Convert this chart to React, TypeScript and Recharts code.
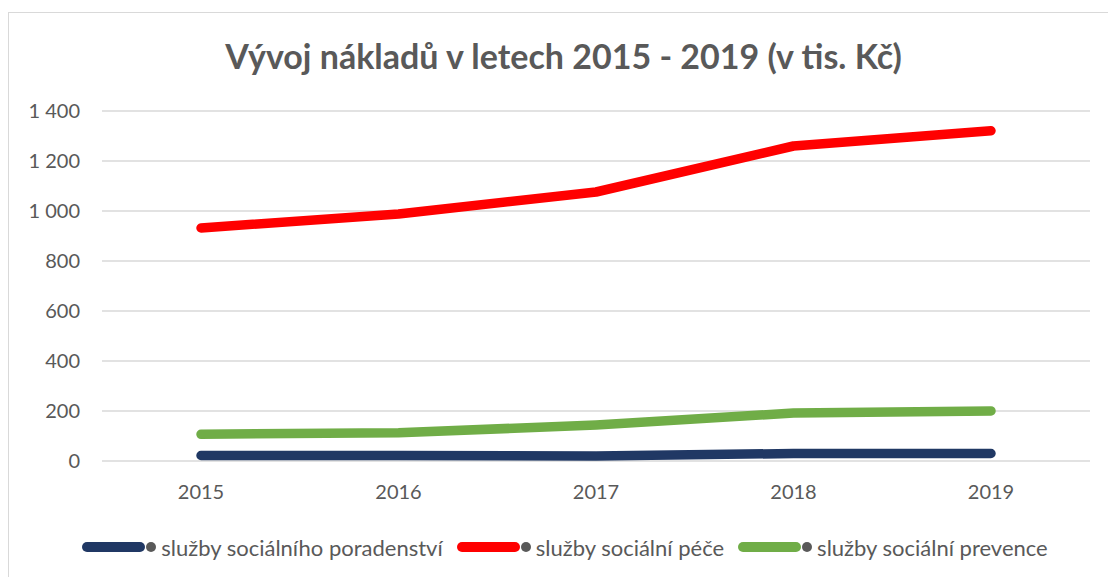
import { CartesianGrid, Legend, Line, LineChart, XAxis, YAxis } from "recharts";

const years = ["2015", "2016", "2017", "2018", "2019"];
const poradenstvi = [22, 22, 20, 30, 30];
const pece = [932, 988, 1076, 1260, 1321];
const prevence = [107, 113, 144, 192, 200];
const yTicks = [0, 200, 400, 600, 800, 1000, 1200, 1400];

const series = [
  { key: "poradenstvi", name: "služby sociálního poradenství", color: "#203864", values: poradenstvi },
  { key: "pece", name: "služby sociální péče", color: "#ff0000", values: pece },
  { key: "prevence", name: "služby sociální prevence", color: "#70ad47", values: prevence },
];

const data = years.map((year, i) => {
  const row: Record<string, string | number> = { year };
  series.forEach(s => { row[s.key] = s.values[i]; });
  return row;
});

const FONT = "Lato, 'Open Sans', sans-serif";
const GREY = "#595959";

const fmt = (v: number) => String(v).replace(/\B(?=(\d{3})+(?!\d))/g, " ");

// legend drawn from our own series list so the order stays as in the original
const LegendContent = () => (
  <div style={{ display: "flex", justifyContent: "center", alignItems: "center", height: 40, fontFamily: FONT, fontSize: 22, color: GREY, marginLeft: 54 }}>
    {series.map(s => (
      <div key={s.key} style={{ display: "flex", alignItems: "center", marginRight: 14 }}>
        <svg width={63} height={12}>
          <line x1={5} y1={6} x2={58} y2={6} stroke={s.color} strokeWidth={10} strokeLinecap="round" />
        </svg>
        <svg width={13} height={12}>
          <circle cx={6} cy={6} r={5} fill={GREY} />
        </svg>
        <span style={{ marginLeft: 3 }}>{s.name}</span>
      </div>
    ))}
  </div>
);

export default function App() {
  return (
    <div style={{ position: "absolute", left: 0, top: 0, width: 1108, height: 577, overflow: "hidden", background: "#fff" }}>
      <div style={{ position: "absolute", left: 8, top: 12, width: 1120, height: 590, border: "1px solid #d9d9d9" }} />
      <div style={{ position: "absolute", left: 0, top: 35, width: 1127, textAlign: "center", fontFamily: FONT, fontWeight: 700, fontSize: 34, color: GREY }}>
        Vývoj nákladů v letech 2015 - 2019 (v tis. Kč)
      </div>
      <div style={{ position: "absolute", left: 0, top: 0 }}>
        <LineChart width={1108} height={577} data={data} margin={{ top: 111, right: 18, bottom: 10, left: 0 }}>
          <CartesianGrid vertical={false} stroke="#d9d9d9" strokeWidth={1.5} />
          <XAxis dataKey="year" axisLine={false} tickLine={false} tickSize={0} tickMargin={24} height={66}
            padding={{ left: 99, right: 99 }}
            tick={{ fill: GREY, fontSize: 20, fontFamily: FONT }} />
          <YAxis domain={[0, 1400]} ticks={yTicks} tickFormatter={fmt} axisLine={false} tickLine={false}
            tickSize={0} tickMargin={22} width={102} tick={{ fill: GREY, fontSize: 20, fontFamily: FONT }} />
          <Legend verticalAlign="bottom" height={40} content={<LegendContent />} />
          {series.map(s => (
            <Line key={s.key} dataKey={s.key} name={s.name} stroke={s.color} strokeWidth={9.5}
              strokeLinecap="round" strokeLinejoin="round" dot={false} activeDot={false}
              type="linear" isAnimationActive={false} />
          ))}
        </LineChart>
      </div>
    </div>
  );
}
